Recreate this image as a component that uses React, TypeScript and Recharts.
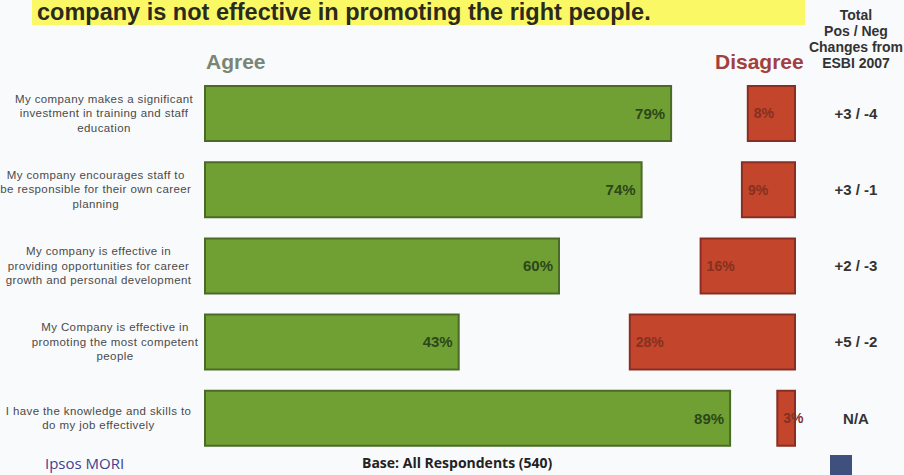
import { BarChart, Bar, XAxis, YAxis, LabelList } from "recharts";

const categories = [
  "My company makes a significant\ninvestment in training and staff\neducation",
  "My company encourages staff to\nbe responsible for their own career\nplanning",
  "My company is effective in\nproviding opportunities for career\ngrowth and personal development",
  "My Company is effective in\npromoting the most competent\npeople",
  "I have the knowledge and skills to\ndo my job effectively",
];
const agree = [79, 74, 60, 43, 89];
const disagree = [8, 9, 16, 28, 3];
const changes = ["+3 / -4", "+3 / -1", "+2 / -3", "+5 / -2", "N/A"];

const data = categories.map((label, i) => ({
  label,
  agree: agree[i],
  gap: 100 - agree[i] - disagree[i],
  disagree: disagree[i],
  change: changes[i],
}));

// multi-line category label, lines centred on each other, block pushed to the right
const CategoryTick = ({ x, y, payload }: any) => {
  const lines: string[] = String(payload.value).split("\n");
  const longest = Math.max(...lines.map((l) => l.length));
  const cx = x - 5 - (longest * 5.5) / 2;
  const lh = 14.5;
  const first = y - ((lines.length - 1) * lh) / 2;
  return (
    <text fontSize={11.5} fill="#4a4a4a" textAnchor="middle" letterSpacing={0.4}>
      {lines.map((l, i) => (
        <tspan key={i} x={cx} y={first + i * lh} dy="0.35em">
          {l}
        </tspan>
      ))}
    </text>
  );
};

const ChangeLabel = ({ x, y, width, height, value }: any) => (
  <text
    x={Number(x) + Number(width) + 61}
    y={Number(y) + Number(height) / 2}
    dy="0.35em"
    textAnchor="middle"
    fontSize={15}
    fontWeight="bold"
    fill="#333"
  >
    {value}
  </text>
);

export default function App() {
  return (
    <div
      style={{
        position: "relative",
        width: 904,
        height: 475,
        overflow: "hidden",
        background: "#f9fafc",
        fontFamily: "'Liberation Sans', Arial, sans-serif",
      }}
    >
      <style>{`body{margin:0}`}</style>
      <div
        style={{
          position: "absolute",
          left: 32,
          top: 0,
          width: 773,
          height: 25,
          background: "#fbf866",
        }}
      />
      <div
        style={{
          position: "absolute",
          left: 37,
          top: 0,
          fontSize: 23.5,
          lineHeight: "24px",
          fontWeight: "bold",
          color: "#2a2a1e",
          whiteSpace: "nowrap",
        }}
      >
        company is not effective in promoting the right people.
      </div>
      <div
        style={{
          position: "absolute",
          left: 796,
          width: 120,
          top: 7,
          fontSize: 14,
          lineHeight: "16px",
          fontWeight: "bold",
          color: "#333",
          textAlign: "center",
          whiteSpace: "nowrap",
        }}
      >
        Total
        <br />
        Pos / Neg
        <br />
        Changes from
        <br />
        ESBI 2007
      </div>
      <div
        style={{
          position: "absolute",
          left: 206,
          top: 50,
          fontSize: 21,
          lineHeight: "24px",
          fontWeight: "bold",
          color: "#7b8573",
        }}
      >
        Agree
      </div>
      <div
        style={{
          position: "absolute",
          left: 715,
          top: 50,
          fontSize: 21,
          lineHeight: "24px",
          fontWeight: "bold",
          color: "#a2403d",
        }}
      >
        Disagree
      </div>
      <div style={{ position: "absolute", left: 0, top: 0 }}>
        <BarChart
          width={904}
          height={475}
          data={data}
          layout="vertical"
          margin={{ top: 75, right: 109, bottom: 19, left: 0 }}
        >
          <XAxis type="number" domain={[0, 100]} hide />
          <YAxis
            type="category"
            dataKey="label"
            width={205}
            axisLine={false}
            tickLine={false}
            tick={<CategoryTick />}
            interval={0}
          />
          <Bar
            dataKey="agree"
            stackId="a"
            barSize={55}
            fill="#70a033"
            stroke="#4b6a27"
            strokeWidth={2}
            isAnimationActive={false}
          >
            <LabelList
              dataKey="agree"
              position="insideRight"
              offset={6}
              fill="#2c4719"
              fontSize={15}
              fontWeight="bold"
              formatter={(v: any) => `${v}%`}
            />
          </Bar>
          <Bar dataKey="gap" stackId="a" fill="transparent" isAnimationActive={false} />
          <Bar
            dataKey="disagree"
            stackId="a"
            fill="#c2452c"
            stroke="#8a2e24"
            strokeWidth={2}
            isAnimationActive={false}
          >
            <LabelList
              dataKey="disagree"
              position="insideLeft"
              offset={6}
              fill="#86301f"
              fontSize={14}
              fontWeight="bold"
              formatter={(v: any) => `${v}%`}
            />
            <LabelList dataKey="change" content={<ChangeLabel />} />
          </Bar>
        </BarChart>
      </div>
      <div
        style={{
          position: "absolute",
          left: 45,
          top: 454,
          fontSize: 15,
          lineHeight: "18px",
          color: "#3d4290",
          fontFamily: "'Open Sans', sans-serif",
        }}
      >
        Ipsos MORI
      </div>
      <div
        style={{
          position: "absolute",
          left: 362,
          top: 454,
          fontSize: 14,
          lineHeight: "18px",
          fontWeight: "bold",
          color: "#222",
          fontFamily: "'Open Sans', sans-serif",
        }}
      >
        Base: All Respondents (540)
      </div>
      <div
        style={{
          position: "absolute",
          left: 830,
          top: 455,
          width: 22,
          height: 20,
          background: "#3f507e",
        }}
      />
    </div>
  );
}
